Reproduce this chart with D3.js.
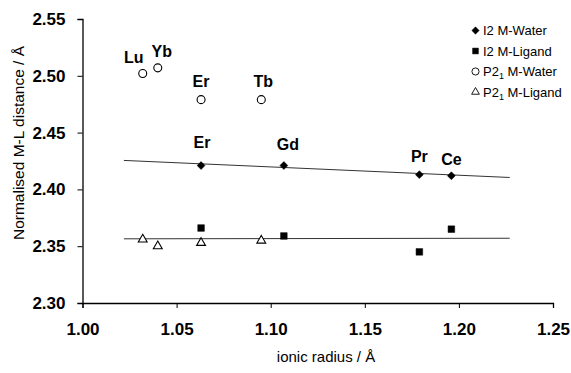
<!DOCTYPE html>
<html><head><meta charset="utf-8">
<script src="https://cdn.jsdelivr.net/npm/d3@7/dist/d3.min.js"></script>
<style>
body{margin:0;background:#fff;}
text{font-family:"Liberation Sans",Arial,sans-serif;}
</style></head>
<body><svg id="c" width="571" height="373"></svg>
<script>
const xTicks = [1.00, 1.05, 1.10, 1.15, 1.20, 1.25];
const yTicks = [2.30, 2.35, 2.40, 2.45, 2.50, 2.55];

const i2WaterX = [1.063, 1.107, 1.179, 1.196];
const i2WaterY = [2.421, 2.421, 2.413, 2.412];
const i2WaterLabels = ["Er", "Gd", "Pr", "Ce"];

const i2LigandX = [1.063, 1.107, 1.179, 1.196];
const i2LigandY = [2.366, 2.359, 2.345, 2.365];

const p21WaterX = [1.032, 1.040, 1.063, 1.095];
const p21WaterY = [2.502, 2.507, 2.479, 2.479];
const p21WaterLabels = ["Lu", "Yb", "Er", "Tb"];

const p21LigandX = [1.032, 1.040, 1.063, 1.095];
const p21LigandY = [2.356, 2.350, 2.353, 2.355];

const trendWaterX = [1.022, 1.227];
const trendWaterY = [2.4255, 2.4105];
const trendLigandX = [1.022, 1.227];
const trendLigandY = [2.3565, 2.357];

const svg = d3.select("#c");
const x = d3.scaleLinear().domain([1.00, 1.25]).range([82.5, 553]);
const y = d3.scaleLinear().domain([2.30, 2.55]).range([303, 19]);

// axes
const xAxis = svg.append("g").attr("transform", `translate(0,${y(2.30)})`)
  .call(d3.axisBottom(x).tickValues(xTicks).tickFormat(d3.format(".2f")).tickSize(5).tickPadding(15));
const yAxis = svg.append("g").attr("transform", `translate(${x(1.00)},0)`)
  .call(d3.axisLeft(y).tickValues(yTicks).tickFormat(d3.format(".2f")).tickSize(5).tickPadding(12));
[xAxis, yAxis].forEach(g => {
  g.select(".domain").attr("stroke", "#000").attr("stroke-width", 1.3);
  g.selectAll(".tick line").attr("stroke", "#000").attr("stroke-width", 1);
  g.selectAll(".tick text").attr("fill", "#000").style("font-size", "17px").style("font-weight", "bold")
   .style("font-family", "'Liberation Sans',Arial,sans-serif");
});

// axis titles
svg.append("text").attr("x", 326).attr("y", 362).attr("text-anchor", "middle")
  .style("font-size", "15px").text("ionic radius / Å");
svg.append("text").attr("transform", `translate(24,${143}) rotate(-90)`).attr("text-anchor", "middle")
  .style("font-size", "15.5px").text("Normalised M-L distance / Å");

// trend lines
const line = d3.line().x(d => x(d[0])).y(d => y(d[1]));
svg.append("path").attr("d", line(d3.zip(trendWaterX, trendWaterY))).attr("stroke", "#333").attr("stroke-width", 1).attr("fill", "none");
svg.append("path").attr("d", line(d3.zip(trendLigandX, trendLigandY))).attr("stroke", "#333").attr("stroke-width", 1).attr("fill", "none");

// symbols
const sym = {
  diamond: d3.symbol().type(d3.symbolDiamond2).size(40),
  square: d3.symbol().type(d3.symbolSquare).size(44),
  circle: d3.symbol().type(d3.symbolCircle).size(50),
  triangle: d3.symbol().type(d3.symbolTriangle).size(34)
};
function drawPoints(xs, ys, s, filled) {
  svg.append("g").selectAll("path").data(d3.zip(xs, ys)).join("path")
    .attr("transform", d => `translate(${x(d[0])},${y(d[1])})`)
    .attr("d", sym[s])
    .attr("fill", filled ? "#000" : "#fff")
    .attr("stroke", "#000").attr("stroke-width", filled ? 0.5 : 1.1);
}
drawPoints(i2WaterX, i2WaterY, "diamond", true);
drawPoints(i2LigandX, i2LigandY, "square", true);
drawPoints(p21WaterX, p21WaterY, "circle", false);
drawPoints(p21LigandX, p21LigandY, "triangle", false);

// element labels
const labOffsetW = [[1, -18], [4, -16], [0, -13], [0, -11]];
svg.append("g").selectAll("text").data(i2WaterLabels).join("text")
  .attr("x", (d, i) => x(i2WaterX[i]) + labOffsetW[i][0])
  .attr("y", (d, i) => y(i2WaterY[i]) + labOffsetW[i][1])
  .attr("text-anchor", "middle").style("font-size", "16px").style("font-weight", "bold").text(d => d);
const labOffsetP = [[-9, -11], [4, -11], [0, -13], [2, -13]];
svg.append("g").selectAll("text").data(p21WaterLabels).join("text")
  .attr("x", (d, i) => x(p21WaterX[i]) + labOffsetP[i][0])
  .attr("y", (d, i) => y(p21WaterY[i]) + labOffsetP[i][1])
  .attr("text-anchor", "middle").style("font-size", "16px").style("font-weight", "bold").text(d => d);

// legend
const legendItems = [
  {s: "diamond", f: true, t: "I2 M-Water", sub: null},
  {s: "square", f: true, t: "I2 M-Ligand", sub: null},
  {s: "circle", f: false, t: "P2", sub: "1", rest: " M-Water"},
  {s: "triangle", f: false, t: "P2", sub: "1", rest: " M-Ligand"}
];
const lsym = {
  diamond: d3.symbol().type(d3.symbolDiamond2).size(34),
  square: d3.symbol().type(d3.symbolSquare).size(34),
  circle: d3.symbol().type(d3.symbolCircle).size(40),
  triangle: d3.symbol().type(d3.symbolTriangle).size(26)
};
const lg = svg.append("g");
legendItems.forEach((it, i) => {
  const yy = 30.5 + i * 20.5;
  lg.append("path").attr("transform", `translate(475.5,${yy})`).attr("d", lsym[it.s])
    .attr("fill", it.f ? "#000" : "#fff").attr("stroke", "#000").attr("stroke-width", it.f ? 0.5 : 0.9);
  const t = lg.append("text").attr("x", 483).attr("y", yy + 4.5).style("font-size", "13px");
  if (it.sub) {
    t.append("tspan").text(it.t);
    t.append("tspan").attr("dy", 3).style("font-size", "9px").text(it.sub);
    t.append("tspan").attr("dy", -3).text(it.rest);
  } else {
    t.text(it.t);
  }
});
</script></body></html>
